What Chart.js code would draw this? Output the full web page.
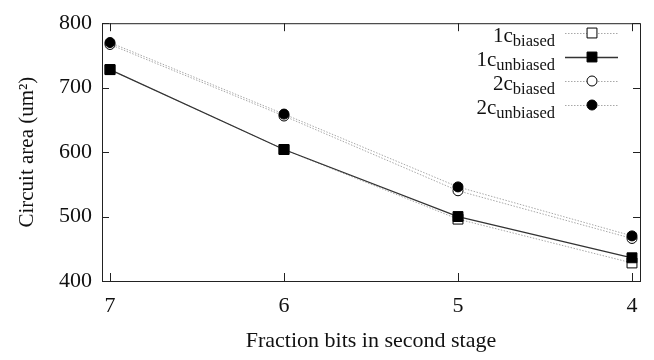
<!DOCTYPE html>
<html>
<head>
<meta charset="utf-8">
<script src="https://cdn.jsdelivr.net/npm/chart.js@4.4.1/dist/chart.umd.min.js"></script>
<style>
    body { margin: 0; background: #fff; }
</style>
</head>
<body>
<canvas id="areaChart" width="654" height="360"></canvas>
<script>
const fractionBits = [7, 6, 5, 4];
const area1cBiased = [728, 604, 496, 428];
const area1cUnbiased = [728, 604, 500, 436];
const area2cBiased = [767, 656, 540, 466];
const area2cUnbiased = [770, 659, 546, 470];
const yTicks = [400, 500, 600, 700, 800];

const serif = "'Liberation Serif', 'DejaVu Serif', serif";

function puntos(valores) {
    return fractionBits.map((x, i) => ({ x: x, y: valores[i] }));
}

// marco con marcas hacia dentro en los cuatro lados
const marcoPlugin = {
    id: 'marco',
    afterDraw(chart) {
        const { ctx, chartArea: a, scales } = chart;
        ctx.save();
        ctx.strokeStyle = '#222';
        ctx.lineWidth = 1;
        ctx.strokeRect(a.left + 0.5, a.top + 0.5, a.right - a.left, a.bottom - a.top);
        ctx.beginPath();
        yTicks.forEach(v => {
            const y = Math.round(scales.y.getPixelForValue(v)) + 0.5;
            ctx.moveTo(a.left, y); ctx.lineTo(a.left + 7, y);
            ctx.moveTo(a.right, y); ctx.lineTo(a.right - 7, y);
        });
        fractionBits.forEach(v => {
            const x = Math.round(scales.x.getPixelForValue(v)) + 0.5;
            ctx.moveTo(x, a.bottom); ctx.lineTo(x, a.bottom - 8);
            ctx.moveTo(x, a.top); ctx.lineTo(x, a.top + 8);
        });
        ctx.stroke();
        ctx.restore();
    }
};

// leyenda con subíndices
const leyendaPlugin = {
    id: 'leyendaSub',
    afterDraw(chart) {
        const { ctx } = chart;
        const textoDer = 555, lineaIni = 565, lineaFin = 618, marcaX = 592;
        chart.data.datasets.forEach((ds, i) => {
            const y = 33 + i * 24;
            ctx.save();
            ctx.font = '16.5px ' + serif;
            ctx.fillStyle = '#111';
            ctx.textAlign = 'right';
            ctx.textBaseline = 'alphabetic';
            const anchoSub = ctx.measureText(ds.sub).width;
            ctx.fillText(ds.sub, textoDer, y + 13);
            ctx.font = '21px ' + serif;
            ctx.fillText(ds.main, textoDer - anchoSub, y + 9);

            ctx.strokeStyle = ds.borderColor;
            ctx.lineWidth = ds.borderWidth;
            ctx.setLineDash(ds.borderDash || []);
            ctx.beginPath();
            ctx.moveTo(lineaIni, y + 0.5);
            ctx.lineTo(lineaFin, y + 0.5);
            ctx.stroke();
            ctx.setLineDash([]);
            ctx.fillStyle = ds.pointBackgroundColor;
            ctx.strokeStyle = '#000';
            ctx.lineWidth = 1;
            ctx.beginPath();
            if (ds.pointStyle === 'rect') {
                const s = Math.SQRT1_2 * ds.pointRadius;
                ctx.rect(marcaX - s, y - s, 2 * s, 2 * s);
            } else {
                ctx.arc(marcaX, y, ds.pointRadius, 0, Math.PI * 2);
            }
            ctx.fill();
            ctx.stroke();
            ctx.restore();
        });
    }
};

const ctx = document.getElementById('areaChart').getContext('2d');

window.areaChart = new Chart(ctx, {
    type: 'line',
    data: {
        datasets: [
            {
                main: '1c', sub: 'biased',
                data: puntos(area1cBiased),
                borderColor: '#a8a8a8', borderWidth: 1, borderDash: [1.5, 1.5],
                pointStyle: 'rect', pointRadius: 7,
                pointBackgroundColor: '#fff', pointBorderColor: '#000', pointBorderWidth: 1,
                order: 2
            },
            {
                main: '1c', sub: 'unbiased',
                data: puntos(area1cUnbiased),
                borderColor: '#333', borderWidth: 1.3,
                pointStyle: 'rect', pointRadius: 7,
                pointBackgroundColor: '#000', pointBorderColor: '#000', pointBorderWidth: 1,
                order: 1
            },
            {
                main: '2c', sub: 'biased',
                data: puntos(area2cBiased),
                borderColor: '#a8a8a8', borderWidth: 1, borderDash: [1.5, 1.5],
                pointStyle: 'circle', pointRadius: 5,
                pointBackgroundColor: '#fff', pointBorderColor: '#000', pointBorderWidth: 1,
                order: 2
            },
            {
                main: '2c', sub: 'unbiased',
                data: puntos(area2cUnbiased),
                borderColor: '#a8a8a8', borderWidth: 1, borderDash: [1.5, 1.5],
                pointStyle: 'circle', pointRadius: 5,
                pointBackgroundColor: '#000', pointBorderColor: '#000', pointBorderWidth: 1,
                order: 1
            }
        ]
    },
    options: {
        responsive: false,
        animation: false,
        layout: { padding: { top: 13, right: 14, left: 0, bottom: 0 } },
        plugins: {
            legend: { display: false },
            tooltip: { enabled: false }
        },
        scales: {
            x: {
                type: 'linear',
                reverse: true,
                min: 3.954,
                max: 7.046,
                afterBuildTicks: s => { s.ticks = fractionBits.map(v => ({ value: v })); },
                afterFit: s => { s.height = 79; },
                grid: { display: false, drawTicks: false },
                border: { display: false },
                ticks: {
                    padding: 12,
                    color: '#111',
                    font: { family: serif, size: 22 },
                    callback: v => String(v)
                },
                title: {
                    display: true,
                    text: 'Fraction bits in second stage',
                    color: '#111',
                    font: { family: serif, size: 22 },
                    padding: { top: 0, bottom: 6 }
                }
            },
            y: {
                min: 400,
                max: 800,
                afterBuildTicks: s => { s.ticks = yTicks.map(v => ({ value: v })); },
                afterFit: s => { s.width = 102; },
                grid: { display: false, drawTicks: false },
                border: { display: false },
                ticks: {
                    padding: 10,
                    color: '#111',
                    font: { family: serif, size: 22 }
                },
                title: {
                    display: true,
                    text: 'Circuit area (um²)',
                    color: '#111',
                    font: { family: serif, size: 21 },
                    padding: { top: 15, bottom: 0 }
                }
            }
        }
    },
    plugins: [marcoPlugin, leyendaPlugin]
});
</script>
</body>
</html>
